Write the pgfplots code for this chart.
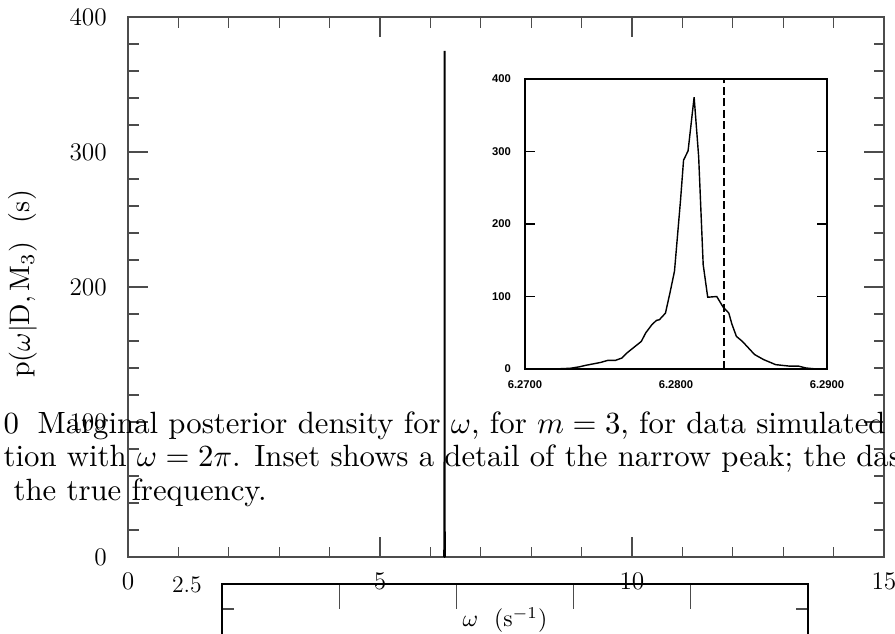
\documentclass[border=0pt]{standalone}
\usepackage{graphicx}
\usepackage{pgfplots}
\usepackage{pgfplotstable}
\pgfplotsset{compat=1.18}
\usepackage{fontspec}
\newfontfamily\insetfont{Liberation Sans}

% narrow peak of the marginal posterior
\pgfplotstableread{
w p
6.2700 0
6.2719 0
6.2730 1
6.2736 3
6.2740 5
6.2745 7
6.2750 9
6.2755 12
6.2760 12
6.2764 15
6.2768 23
6.2774 33
6.2777 38
6.2780 50
6.2784 61
6.2787 67
6.2789 68
6.2793 77
6.2796 105
6.2799 135
6.2803 233
6.2805 288
6.2808 301
6.2812 375
6.2815 293
6.2818 144
6.2821 99
6.2827 100
6.2831 86
6.2835 77
6.2837 62
6.2840 45
6.2844 38
6.2852 20
6.2858 13
6.2866 6
6.2875 4
6.2881 4
6.2886 1.4
6.2893 0
6.2900 0
}\peak

\begin{document}
\begin{tikzpicture}
\path[use as bounding box] (0,0) rectangle (17.9cm,12.66cm);
\clip (0,0) rectangle (17.9cm,12.66cm);

% main axis
\begin{axis}[
  at={(2.56cm,1.52cm)}, anchor=south west,
  scale only axis, width=15.12cm, height=10.8cm,
  xmin=0, xmax=15, ymin=0, ymax=400,
  clip=false,
  xtick={0,5,10,15}, ytick={0,100,200,300,400},
  minor x tick num=4, minor y tick num=4,
  tick align=inside,
  major tick length=0.4cm, minor tick length=0.21cm,
  axis line style={black!70, line width=0.6pt},
  every tick/.style={black!70, line width=0.6pt},
  tick label style={font=\fontsize{13.5}{16}\selectfont},
  xticklabel style={yshift=-0.2cm},
  yticklabel style={xshift=-0.3cm},
  xlabel={\scalebox{1.35}{$\omega$~~(s$^{-1}$)}},
  ylabel={\scalebox{1.6}{$\mathrm{p}(\omega|\mathrm{D,M_3})$~~(s)}},
  xlabel style={at={(axis description cs:0.4987,-0.1167)}, anchor=center},
  ylabel style={at={(axis description cs:-0.139,0.5056)}, anchor=center},
]
\addplot[black, line width=1.1pt] table[x=w, y=p] {\peak};
\node[font=\fontsize{13.5}{16}\selectfont] at (axis description cs:0.078,-0.052) {2.5};
\end{axis}

% inset
\begin{axis}[
  at={(10.5cm,5.28cm)}, anchor=south west,
  scale only axis, width=6.04cm, height=5.8cm,
  xmin=6.27, xmax=6.29, ymin=0, ymax=400,
  scaled x ticks=false,
  xtick={6.27,6.28,6.29}, xticklabels={6.2700,6.2800,6.2900},
  minor xtick={6.270,6.272,6.274,6.276,6.278,6.280,6.282,6.284,6.286,6.288,6.290},
  xtick style={draw=none},
  ytick={0,100,200,300,400},
  tick align=inside,
  major tick length=0.2cm, minor tick length=0.1cm,
  axis line style={black, line width=0.6pt},
  every tick/.style={black, line width=0.6pt},
  /pgf/number format/assume math mode=true,
  tick label style={font=\insetfont\bfseries\fontsize{6.4}{7}\selectfont},
  xticklabel style={yshift=-0.1cm},
  yticklabel style={xshift=-0.16cm},
]
\addplot[black, line width=0.8pt] table[x=w, y=p] {\peak};
\addplot[black, line width=0.9pt, dash pattern=on 4.5pt off 2pt] coordinates {(6.283185,0) (6.283185,400)};
\end{axis}

% frame of the next panel, cut off by the page
\begin{axis}[
  at={(4.44cm,-2.02cm)}, anchor=south west,
  scale only axis, width=11.72cm, height=3cm,
  xmin=0, xmax=5, ymin=0, ymax=150,
  xtick={1,2,3,4}, xticklabels={},
  ytick={-10}, minor ytick={125},
  tick align=inside,
  major tick length=0.5cm, minor tick length=0.24cm,
  axis line style={black, line width=0.7pt},
  every tick/.style={black!70, line width=0.6pt},
]
\end{axis}

% caption of the page, overlapping the figure
\begin{scope}[every node/.style={inner sep=0pt, anchor=base west,
    font=\fontsize{10}{12}\selectfont, scale=1.75}]
\node at (0.06cm,4.0cm) {0};
\node at (0.74cm,4.0cm) {Marginal posterior density for $\omega$, for $m=3$, for data simulated from};
\node at (0.06cm,3.34cm) {tion with $\omega=2\pi$. Inset shows a detail of the narrow peak; the dashed line};
\node at (0.26cm,2.66cm) {the true frequency.};
\end{scope}
\end{tikzpicture}
\end{document}
